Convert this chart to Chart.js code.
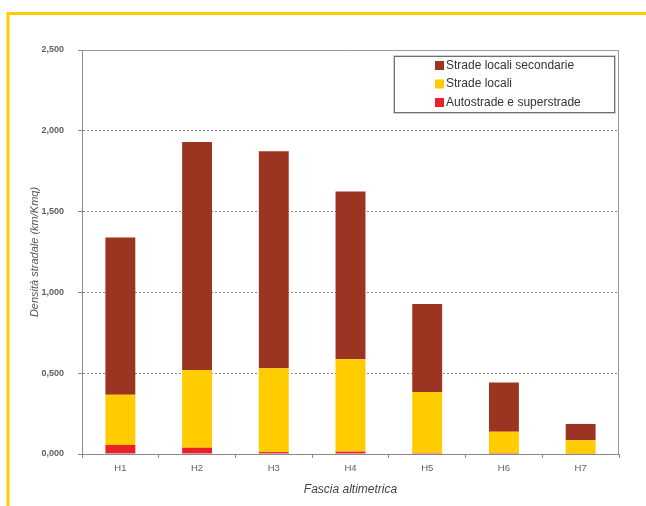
<!DOCTYPE html>
<html>
<head>
<meta charset="utf-8">
<script src="https://cdn.jsdelivr.net/npm/chart.js@4/dist/chart.umd.min.js"></script>
<style>
  html, body { margin: 0; padding: 0; background: #ffffff; }
  canvas { display: block; }
</style>
</head>
<body>
<canvas id="chart" width="646" height="506"></canvas>
<script>
// Fasce altimetriche
const categories = ['H1', 'H2', 'H3', 'H4', 'H5', 'H6', 'H7'];

// Densità stradale per tipologia (km/Kmq)
const autostrade = [0.056, 0.039, 0.012, 0.015, 0.006, 0.006, 0.002];
const stradeLocali = [0.310, 0.481, 0.519, 0.572, 0.378, 0.132, 0.083];
const stradeSecondarie = [0.974, 1.411, 1.342, 1.038, 0.544, 0.304, 0.101];

// Etichette dell'asse verticale (passo 0,5)
const yTickLabels = ['0,000', '0,500', '1,000', '1,500', '2,000', '2,500'];

const seriesNames = ['Autostrade e superstrade', 'Strade locali', 'Strade locali secondarie'];
const seriesColors = ['#E8222A', '#FFCC00', '#9B3421'];

// Cornice gialla della pagina
const pageFrame = {
  id: 'pageFrame',
  beforeDraw(chart) {
    const ctx = chart.ctx;
    ctx.save();
    ctx.fillStyle = '#ffffff';
    ctx.fillRect(0, 0, chart.width, chart.height);
    ctx.strokeStyle = '#FFCC00';
    ctx.lineWidth = 3;
    ctx.beginPath();
    ctx.moveTo(8, chart.height);
    ctx.lineTo(8, 13.5);
    ctx.lineTo(chart.width, 13.5);
    ctx.stroke();
    ctx.restore();
  }
};

// Bordo superiore e destro dell'area del grafico, più la legenda interna
const plotDecor = {
  id: 'plotDecor',
  afterDraw(chart) {
    const ctx = chart.ctx;
    const a = chart.chartArea;
    ctx.save();
    ctx.strokeStyle = '#9a9a9a';
    ctx.lineWidth = 1;
    ctx.beginPath();
    ctx.moveTo(Math.round(a.left) + 0.5, Math.round(a.top) + 0.5);
    ctx.lineTo(Math.round(a.right) - 0.5, Math.round(a.top) + 0.5);
    ctx.lineTo(Math.round(a.right) - 0.5, Math.round(a.bottom));
    ctx.stroke();

    // legenda (ordine inverso rispetto all'impilamento)
    const bx = 394.5, by = 56.5, bw = 220, bh = 56;
    ctx.fillStyle = '#ffffff';
    ctx.fillRect(bx, by, bw, bh);
    ctx.strokeStyle = '#cfcfcf';
    ctx.strokeRect(bx - 1, by - 1, bw + 2, bh + 2);
    ctx.strokeStyle = '#6f6f6f';
    ctx.strokeRect(bx, by, bw, bh);

    ctx.font = '12px "Liberation Sans", Arial, sans-serif';
    ctx.textBaseline = 'middle';
    ctx.textAlign = 'left';
    const ds = chart.data.datasets.slice().reverse();
    ds.forEach((d, i) => {
      const cy = 65 + i * 18.5;
      ctx.fillStyle = d.backgroundColor;
      ctx.fillRect(435, cy - 4, 9, 9);
      ctx.fillStyle = '#333333';
      ctx.fillText(d.label, 446, cy + 0.5);
    });
    ctx.restore();
  }
};

Chart.defaults.font.family = '"Liberation Sans", Arial, sans-serif';

new Chart(document.getElementById('chart'), {
  type: 'bar',
  data: {
    labels: categories,
    datasets: [
      { label: seriesNames[0], data: autostrade, backgroundColor: seriesColors[0] },
      { label: seriesNames[1], data: stradeLocali, backgroundColor: seriesColors[1] },
      { label: seriesNames[2], data: stradeSecondarie, backgroundColor: seriesColors[2] }
    ]
  },
  options: {
    responsive: false,
    animation: false,
    devicePixelRatio: 1,
    layout: { padding: { left: 0, right: 27, top: 50, bottom: 0 } },
    datasets: {
      bar: { barPercentage: 1, categoryPercentage: 0.39, borderWidth: 0 }
    },
    plugins: {
      legend: { display: false },
      tooltip: { enabled: false }
    },
    scales: {
      x: {
        stacked: true,
        afterFit(scale) { scale.height = 52; },
        grid: {
          offset: true,
          drawOnChartArea: false,
          drawTicks: true,
          tickLength: 4,
          tickColor: '#8a8a8a'
        },
        border: { display: true, color: '#8a8a8a', width: 1 },
        ticks: {
          color: '#5e5e5e',
          font: { size: 9.5 },
          padding: 5,
          maxRotation: 0
        },
        title: {
          display: true,
          text: 'Fascia altimetrica',
          color: '#444444',
          font: { size: 12, style: 'italic' },
          padding: { top: 0, bottom: 9 }
        }
      },
      y: {
        stacked: true,
        min: 0,
        max: 2.5,
        afterFit(scale) { scale.width = 82; },
        grid: {
          drawTicks: true,
          tickLength: 4,
          tickColor: '#8a8a8a',
          color: (c) => (c.tick && (c.tick.value === 0 || c.tick.value === 2.5)) ? 'rgba(0,0,0,0)' : '#8a8a8a',
          lineWidth: 1
        },
        border: { display: true, color: '#8a8a8a', width: 1, dash: [2, 2] },
        ticks: {
          stepSize: 0.5,
          color: '#5e5e5e',
          font: { size: 9, weight: 'bold' },
          padding: 14,
          callback: (v, i) => yTickLabels[i]
        },
        title: {
          display: true,
          text: 'Densità stradale (km/Kmq)',
          color: '#555555',
          font: { size: 11, style: 'italic' },
          padding: { top: 28, bottom: 0 }
        }
      }
    }
  },
  plugins: [pageFrame, plotDecor]
});
</script>
</body>
</html>
